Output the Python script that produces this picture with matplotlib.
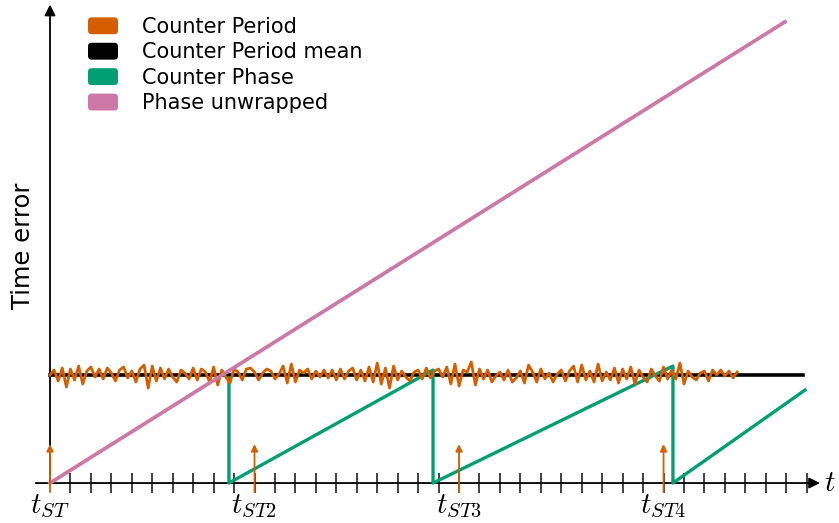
import numpy as np
import matplotlib
matplotlib.use("Agg")
import matplotlib.pyplot as plt
from matplotlib.patches import Patch, FancyBboxPatch
from matplotlib.legend_handler import HandlerPatch

plt.rcParams['mathtext.fontset'] = 'cm'
plt.rcParams['font.family'] = 'DejaVu Sans'

# x in sample-tick units, y in arbitrary time-error units (mean = 1)
step = 0.2
period_mean = 1.0
# counter period deviations from the mean (in 1/108 units)
period_dev = [0, 5, -6, 7, -12, 6, -5, 9, -9, 4, 8, -2, 6, -4, 7, 2, -6, 5, 8, -3,
              4, -7, 6, 10, -13, 9, -6, 7, -4, 6, -2, -7, 5, 2,
              -4, 7, -5, 6, 3, -7, 8, -10, 5, -2, -8, 6, 3, -5, 6, 7, 3, -5, 2, 6,
              4, -4, 1, 9, -8, 11, -7, 5, 2, 6, -4, 4, -2, 5,
              -3, 5, -5, 6, -4, 4, 7, -5, 5, -6, 8, -7, 12, -9, 7, -13, 9, -5, 4, -2,
              -6, 3, 5, -4, 7, -3, 4, 6, -2, 8, -9, 11, -11, 5,
              3, 13, -10, 6, -4, 5, -7, -1, 3, -5, 5, -7, -3, 4, -8, 10, 3, -7, 6, -4,
              2, -7, 1, 5, -6, 4, 9, -7, 10, -5, 4, -7, 11, -6,
              3, -5, 7, -8, 6, -4, 8, -9, 5, -2, -7, 6, -1, -6, 8, -4, 5, -4, 12, -9,
              4, -2, -5, 2, 4, -6, 5, 0, 5, -1, 4, -3, 3]
mean_x = [0, 36.8]
phase_x = [8.75, 8.75, 18.73, 18.73, 30.46, 30.46, 36.92]
phase_y = [0.972, 0.0, 1.046, 0.0, 1.083, 0.0, 0.861]
unwrap_x = [0, 35.94]
unwrap_y = [0, 4.27]
start_x = [0, 10, 20, 30]
start_labels = [r'$t_{ST}$', r'$t_{ST2}$', r'$t_{ST3}$', r'$t_{ST4}$']
tick_x = list(range(1, 38))

c_orange = '#D55E00'
c_green = '#009E73'
c_pink = '#CC79A7'

period_x = np.arange(len(period_dev)) * step
period_y = period_mean + np.array(period_dev) / 108.0


class RoundHandler(HandlerPatch):
    # rounded legend swatches
    def create_artists(self, legend, orig_handle, xdescent, ydescent,
                       width, height, fontsize, trans):
        r = 0.22 * height
        p = FancyBboxPatch((-xdescent + r, -ydescent + r), width - 2 * r, height - 2 * r,
                           boxstyle='round,pad=%f' % r,
                           facecolor=orig_handle.get_facecolor(), edgecolor='none',
                           transform=trans)
        return [p]


fig = plt.figure(figsize=(8.39, 5.23), dpi=100)
ax = fig.add_axes([0, 0, 1, 1])
ax.set_xlim(-2.445, 38.58)
ax.set_ylim(-0.370, 4.472)
ax.axis('off')

# axes with arrows
ax.annotate('', xy=(37.65, 0), xytext=(-0.7, 0),
            arrowprops=dict(arrowstyle='-|>', color='black', lw=1.3,
                            mutation_scale=16, shrinkA=0, shrinkB=0))
ax.annotate('', xy=(0, 4.43), xytext=(0, 0),
            arrowprops=dict(arrowstyle='-|>', color='black', lw=1.3,
                            mutation_scale=16, shrinkA=0, shrinkB=0))
ax.vlines(tick_x, -0.095, 0.095, color='#333333', lw=1.3)

ax.plot(mean_x, [period_mean, period_mean], color='black', lw=2.6, zorder=2)
ax.plot(phase_x, phase_y, color=c_green, lw=2.4, zorder=3)
ax.plot(period_x, period_y, color=c_orange, lw=2.0, zorder=4)
ax.plot(unwrap_x, unwrap_y, color=c_pink, lw=2.7, zorder=5)

for sx, lab in zip(start_x, start_labels):
    ax.annotate('', xy=(sx, 0.36), xytext=(sx, -0.085),
                arrowprops=dict(arrowstyle='-|>', color=c_orange, lw=1.3,
                                mutation_scale=10, shrinkA=0, shrinkB=0),
                zorder=6)
    ax.text(sx, -0.21, lab, fontsize=21, ha='center', va='center')

ax.text(38.15, 0, r'$t$', fontsize=21, ha='center', va='center')
ax.text(-1.3, 2.2, 'Time error', fontsize=17.5, rotation=90,
        ha='center', va='center')

handles = [Patch(facecolor=c_orange),
           Patch(facecolor='black'),
           Patch(facecolor=c_green),
           Patch(facecolor=c_pink)]
labels = ['Counter Period', 'Counter Period mean', 'Counter Phase', 'Phase unwrapped']
fig.legend(handles, labels, loc='upper left', bbox_to_anchor=(88 / 839, 1 - 17 / 523),
           frameon=False, fontsize=15, handlelength=1.44, handleheight=0.87,
           handletextpad=1.15, labelspacing=0.26, borderpad=0, borderaxespad=0,
           handler_map={Patch: RoundHandler()})

fig.savefig('out.png', dpi=100)
